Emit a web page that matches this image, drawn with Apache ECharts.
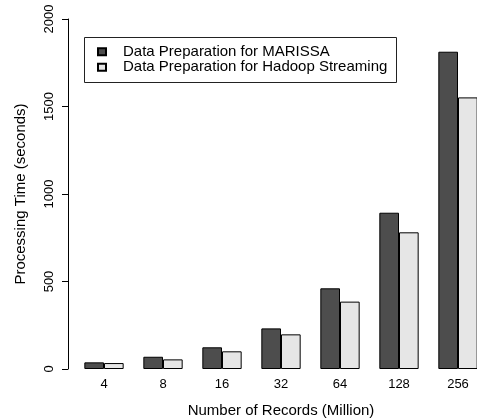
<!DOCTYPE html>
<html>
<head>
<meta charset="utf-8">
<script src="https://cdn.jsdelivr.net/npm/echarts@6/dist/echarts.min.js"></script>
<style>html,body{margin:0;padding:0;background:#fff}#c{width:477px;height:419px}</style>
</head>
<body>
<div id="c"></div>
<script>
const categories = ['4', '8', '16', '32', '64', '128', '256'];
const marissa = [38, 70, 124, 232, 461, 893, 1813];
const hadoop = [34, 55, 101, 198, 385, 781, 1552];
const seriesNames = ['Data Preparation for MARISSA', 'Data Preparation for Hadoop Streaming'];
const yTicks = [0, 500, 1000, 1500, 2000];
const xTitle = 'Number of Records (Million)';
const yTitle = 'Processing Time (seconds)';

const FONT = 'Liberation Sans, Arial, Helvetica, sans-serif';
const chart = echarts.init(document.getElementById('c'), null, {renderer: 'canvas'});
chart.setOption({
  animation: false,
  backgroundColor: '#ffffff',
  textStyle: {fontFamily: FONT, color: '#000'},
  grid: {left: 74.5, width: 413, top: 19, bottom: 50, containLabel: false, outerBoundsMode: 'none'},
  graphic: [{
    type: 'rect', shape: {x: 84.5, y: 37.5, width: 312, height: 45},
    style: {fill: '#fff', stroke: '#222', lineWidth: 1}, z: 5
  }],
  legend: {
    orient: 'vertical', left: 97, top: 44, padding: 0, itemGap: 0,
    itemWidth: 8, itemHeight: 7, icon: 'rect', z: 10,
    textStyle: {fontFamily: FONT, fontSize: 15, color: '#000', lineHeight: 15.5, padding: [0, 0, 0, 12]},
    data: seriesNames
  },
  xAxis: {
    type: 'category', data: categories,
    axisLine: {show: false}, axisTick: {show: false},
    axisLabel: {fontFamily: FONT, fontSize: 13, color: '#000', margin: 9},
    name: xTitle, nameLocation: 'middle', nameGap: 34,
    nameTextStyle: {fontFamily: FONT, fontSize: 15, color: '#000'}
  },
  yAxis: {
    type: 'value', min: 0, max: 2000, interval: 500, offset: 6.5,
    splitLine: {show: false},
    axisLine: {show: true, lineStyle: {color: '#000', width: 1}},
    axisTick: {show: true, length: 6, inside: false, lineStyle: {color: '#000'}},
    axisLabel: {fontFamily: FONT, fontSize: 13, color: '#000', rotate: 90, margin: 12,
      formatter: v => yTicks.includes(v) ? String(v) : ''},
    name: yTitle, nameLocation: 'middle', nameGap: 40,
    nameTextStyle: {fontFamily: FONT, fontSize: 15, color: '#000'}
  },
  series: [
    {name: seriesNames[0], type: 'bar', data: marissa, barWidth: '33.33%', barGap: '0%',
     itemStyle: {color: '#4d4d4d', borderColor: '#000', borderWidth: 1}},
    {name: seriesNames[1], type: 'bar', data: hadoop, barWidth: '33.33%', barGap: '0%',
     itemStyle: {color: '#e6e6e6', borderColor: '#000', borderWidth: 1}}
  ]
});
</script>
</body>
</html>
